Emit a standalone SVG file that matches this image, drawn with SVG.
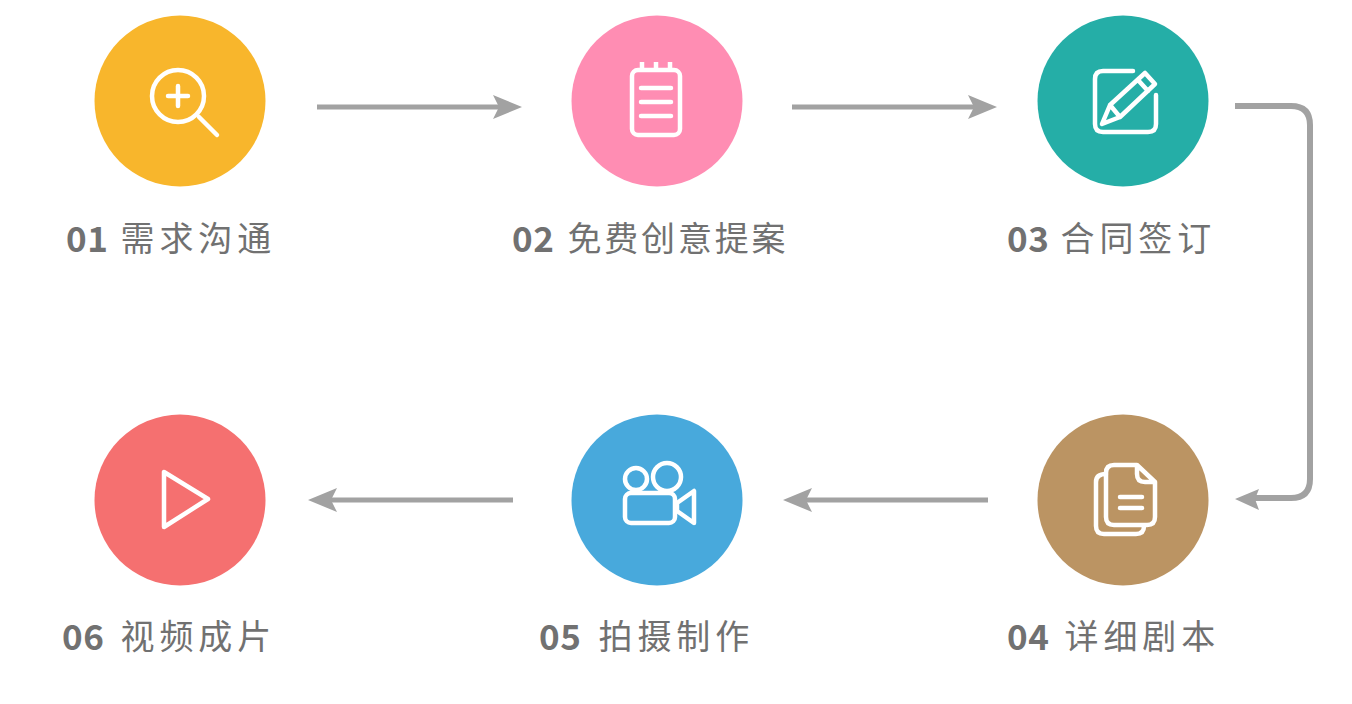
<svg xmlns="http://www.w3.org/2000/svg" width="1352" height="704" viewBox="0 0 1352 704">
<style>
.ic{fill:none;stroke:#fff;stroke-width:4.5;stroke-linecap:round;stroke-linejoin:round}
.num{font-family:"Noto Sans CJK SC",sans-serif;font-weight:700;font-size:35px;fill:#717171;letter-spacing:.5px}
.lb{font-family:"Noto Sans CJK SC",sans-serif;font-weight:400;font-size:34px;fill:#717171;letter-spacing:4.9px}
.cn{fill:none;stroke:#a2a2a2;stroke-width:5}
.ah{fill:#a2a2a2}
</style>
<rect width="1352" height="704" fill="#fff"/>
<g id="connectors">
<path class="cn" d="M317 107H500"/><path class="ah" d="M522 107L493 95L499 107L493 119Z"/>
<path class="cn" d="M792 107H975"/><path class="ah" d="M997 107L968 95L974 107L968 119Z"/>
<path class="cn" style="stroke-width:6" d="M1235 106H1291Q1310 106 1310 125V479Q1310 498 1291 498H1252"/><path class="ah" d="M1235 499L1259 489L1255 499L1259 510Z"/>
<path class="cn" d="M988 500H805"/><path class="ah" d="M783 500L812 488L806 500L812 512Z"/>
<path class="cn" d="M513 500H330"/><path class="ah" d="M308 500L337 488L331 500L337 512Z"/>
</g>
<g id="node-01">
<circle cx="180" cy="101" r="85.5" fill="#f8b62c"/>
<circle class="ic" cx="178" cy="96" r="26"/><path class="ic" d="M168 96H188M178 86V106M199 117L217 135"/>
<text x="66" y="252" class="num">01</text><text x="120.5" y="251" class="lb">需求沟通</text>
</g>
<g id="node-02">
<circle cx="657" cy="101" r="85.5" fill="#ff8db3"/>
<rect class="ic" x="632" y="70" width="48" height="65" rx="6"/><path class="ic" d="M641 88H671M641 102H671M641 116H671"/><path stroke="#fff" stroke-width="4.5" fill="none" d="M642 62V70M656 62V70M670 62V70"/>
<text x="512" y="252" class="num">02</text><text x="567.5" y="251" class="lb" style="letter-spacing:2.8px">免费创意提案</text>
</g>
<g id="node-03">
<circle cx="1123" cy="101" r="85.5" fill="#25aea7"/>
<path class="ic" d="M1133 71H1103Q1095 71 1095 79V124Q1095 132 1103 132H1148Q1156 132 1156 124V95"/>
<path class="ic" d="M1102 124L1110 105L1145 73L1155 84L1120 117ZM1110 105L1120 117M1138 80L1148 91"/>
<text x="1007" y="252" class="num">03</text><text x="1060.5" y="251" class="lb">合同签订</text>
</g>
<g id="node-04">
<circle cx="1123" cy="500" r="85.5" fill="#bb9463"/>
<path class="ic" d="M1106 474Q1096 474 1096 482V526Q1096 534 1104 534H1136Q1144 534 1144 526"/>
<path class="ic" d="M1137 465H1114Q1106 465 1106 473V517Q1106 525 1114 525H1147Q1155 525 1155 517V482ZM1137 465V474Q1137 482 1145 482H1155M1120 497H1142M1120 508H1142"/>
<text x="1007" y="650" class="num">04</text><text x="1064.5" y="649" class="lb">详细剧本</text>
</g>
<g id="node-05">
<circle cx="657" cy="500" r="85.5" fill="#48a9dc"/>
<circle class="ic" cx="636" cy="479" r="11"/><circle class="ic" cx="667" cy="477" r="14"/>
<rect class="ic" x="625" y="493" width="50" height="30" rx="6"/><path class="ic" d="M677 503L694 491V523L677 511Z"/>
<text x="539" y="650" class="num">05</text><text x="598.5" y="649" class="lb">拍摄制作</text>
</g>
<g id="node-06">
<circle cx="180" cy="500" r="85.5" fill="#f57070"/>
<path class="ic" d="M164 472V527L208 499Z"/>
<text x="62" y="650" class="num">06</text><text x="120.5" y="649" class="lb">视频成片</text>
</g>
</svg>
